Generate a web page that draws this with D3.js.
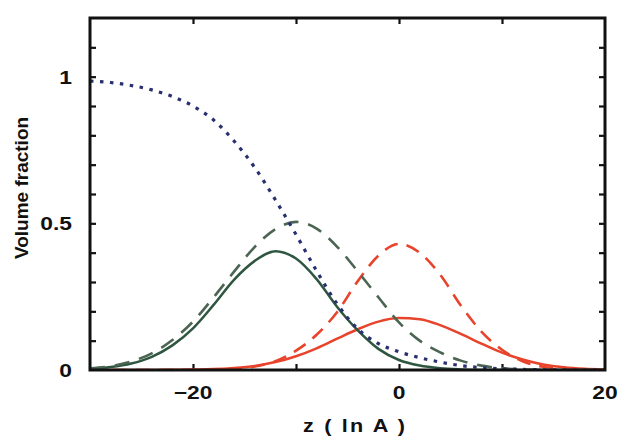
<!DOCTYPE html>
<html>
<head>
<meta charset="utf-8">
<script src="https://cdn.jsdelivr.net/npm/d3@7"></script>
<style>
  html, body { margin: 0; padding: 0; background: #fff; }
  svg { display: block; }
  text { font-family: "Liberation Sans", Arial, Helvetica, sans-serif; font-weight: bold; fill: #111; }
</style>
</head>
<body>
<svg id="chart" width="620" height="437"></svg>
<script>
// ---- data ----
const zValues = [-30,-28,-26,-24,-22,-20,-18,-16,-14,-12,-10,-8,-6,-4,-2,0,2,4,6,8,10,12,14,16,18,20];
const blueDotted = [0.985,0.98,0.97,0.955,0.932,0.9,0.852,0.78,0.69,0.58,0.462,0.338,0.225,0.14,0.09,0.062,0.042,0.027,0.015,0.008,0.004,0.002,0.001,0,0,0];
const greenSolid = [0.004,0.01,0.022,0.045,0.084,0.142,0.222,0.308,0.372,0.405,0.38,0.31,0.215,0.135,0.072,0.034,0.015,0.006,0.002,0,0,0,0,0,0,0];
const greenDashed = [0.006,0.013,0.029,0.057,0.102,0.165,0.248,0.336,0.42,0.48,0.505,0.482,0.42,0.336,0.248,0.162,0.1,0.06,0.032,0.015,0.006,0.002,0,0,0,0];
const redSolid = [0,0,0,0,0.0005,0.0015,0.003,0.007,0.014,0.027,0.047,0.074,0.107,0.139,0.165,0.177,0.173,0.153,0.123,0.09,0.059,0.036,0.019,0.009,0.004,0.002];
const redDashed = [0,0,0,0,0,0,0.001,0.004,0.012,0.03,0.066,0.12,0.198,0.303,0.39,0.43,0.4,0.325,0.22,0.131,0.069,0.03,0.011,0.004,0.001,0];

const xTickValues = [-20, 0, 20];
const xTickLabels = ["\u221220", "0", "20"];
const xMinorTicks = [-20, -10, 0, 10];
const yTickValues = [0, 0.5, 1];
const yTickLabels = ["0", "0.5", "1"];
const yMinorTicks = [0.1,0.2,0.3,0.4,0.5,0.6,0.7,0.8,0.9,1.0,1.1];
const xTitle = "z ( ln A )";
const yTitle = "Volume fraction";

// ---- layout ----
const mLeft = 90, mRight = 605, mTop = 18, mBottom = 370;
const svg = d3.select("#chart");
const x = d3.scaleLinear().domain([-30, 20]).range([mLeft, mRight]);
const y = d3.scaleLinear().domain([0, 1.2]).range([mBottom, mTop]);

// inward ticks via axes
const tickLen = 6;
svg.append("g").attr("transform", `translate(${mLeft},0)`)
  .call(d3.axisLeft(y).tickValues(yMinorTicks).tickSize(-tickLen).tickFormat(""))
  .call(g => g.select(".domain").remove());
svg.append("g").attr("transform", `translate(${mRight},0)`)
  .call(d3.axisRight(y).tickValues(yMinorTicks).tickSize(-tickLen).tickFormat(""))
  .call(g => g.select(".domain").remove());
svg.append("g").attr("transform", `translate(0,${mTop})`)
  .call(d3.axisTop(x).tickValues(xMinorTicks).tickSize(-tickLen).tickFormat(""))
  .call(g => g.select(".domain").remove());
svg.append("g").attr("transform", `translate(0,${mBottom})`)
  .call(d3.axisBottom(x).tickValues(xMinorTicks).tickSize(-tickLen).tickFormat(""))
  .call(g => g.select(".domain").remove());
svg.selectAll(".tick line").attr("stroke", "#111").attr("stroke-width", 2.2);

// curves
const pts = arr => zValues.map((z, i) => [z, arr[i]]);
const line = d3.line().x(d => x(d[0])).y(d => y(d[1])).curve(d3.curveMonotoneX);
const series = [
  { data: redSolid,   color: "#e8432b", width: 2.5, dash: null },
  { data: redDashed,  color: "#e8432b", width: 2.6, dash: "14,9" },
  { data: greenSolid, color: "#2f5640", width: 2.5, dash: null },
  { data: greenDashed,color: "#4b6552", width: 2.6, dash: "15,10" },
  { data: blueDotted, color: "#283070", width: 3.2, dash: "3.5,6.5" }
];
svg.append("clipPath").attr("id", "clip")
  .append("rect").attr("x", mLeft).attr("y", mTop).attr("width", mRight - mLeft).attr("height", mBottom - mTop);
const plot = svg.append("g").attr("clip-path", "url(#clip)");
series.forEach(s => {
  plot.append("path")
    .attr("d", line(pts(s.data)))
    .attr("fill", "none")
    .attr("stroke", s.color)
    .attr("stroke-width", s.width)
    .attr("stroke-dasharray", s.dash)
    .attr("stroke-linejoin", "round");
});

// frame
svg.append("rect").attr("x", mLeft).attr("y", mTop)
  .attr("width", mRight - mLeft).attr("height", mBottom - mTop)
  .attr("fill", "none").attr("stroke", "#111").attr("stroke-width", 3);

// tick labels
const sx = 1.2;
xTickValues.forEach((v, i) => {
  svg.append("text")
    .attr("transform", `translate(${x(v)},399) scale(${sx},1)`)
    .attr("text-anchor", "middle")
    .attr("font-size", 19)
    .text(xTickLabels[i]);
});
yTickValues.forEach((v, i) => {
  svg.append("text")
    .attr("transform", `translate(72,${y(v) + 7}) scale(${sx},1)`)
    .attr("text-anchor", "end")
    .attr("font-size", 19)
    .text(yTickLabels[i]);
});

// axis titles
svg.append("text")
  .attr("transform", `translate(354,432) scale(${sx},1)`)
  .attr("text-anchor", "middle")
  .attr("font-size", 18)
  .attr("textLength", 85)
  .attr("lengthAdjust", "spacing")
  .text(xTitle);
svg.append("text")
  .attr("transform", `translate(28,188) rotate(-90)`)
  .attr("text-anchor", "middle")
  .attr("font-size", 19)
  .text(yTitle);
</script>
</body>
</html>
